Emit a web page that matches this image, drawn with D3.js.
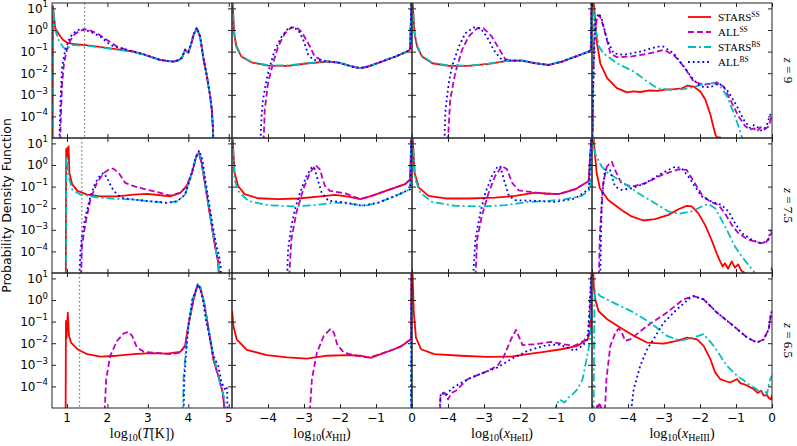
<!DOCTYPE html>
<html>
<head>
<meta charset="utf-8">
<script src="https://cdn.jsdelivr.net/npm/d3@7"></script>
<style>
  body { margin: 0; background: #fff; }
  svg { display: block; font-family: "DejaVu Sans", sans-serif; }
  .serif { font-family: "Liberation Serif", "DejaVu Serif", serif; }
</style>
</head>
<body>
<svg id="chart" width="797" height="446"></svg>
<script>
// Values are [x, log10(PDF)]. -6 means "below the plot".

// ---- z = 9 ----
const T_z9_starsSS = [[0.645,-6],[0.655,1.1],[0.71,0.08],[0.8,-0.2],[0.9,-0.45],[1.0,-0.58],[1.2,-0.66],[1.455,-0.7],[1.8,-0.78],[2.07,-0.85],[2.4,-0.93],[2.65,-1.0],[2.85,-1.1],[3.06,-1.23],[3.3,-1.38],[3.47,-1.43],[3.64,-1.46],[3.76,-1.4],[3.84,-1.3],[3.92,-0.92],[4.0,-1.05],[4.08,-0.6],[4.13,-0.23],[4.21,0.08],[4.29,-0.31],[4.38,-1.38],[4.46,-2.15],[4.54,-3.08],[4.58,-3.69],[4.61,-4.6],[4.63,-6]];
const T_z9_allSS = [[0.83,-6],[0.84,-4.5],[0.88,-2.46],[0.93,-1.5],[1.0,-0.92],[1.08,-0.5],[1.17,-0.23],[1.3,-0.05],[1.455,0.03],[1.6,-0.04],[1.74,-0.15],[1.99,-0.46],[2.24,-0.77],[2.48,-0.92],[2.65,-1.0],[2.85,-1.1],[3.06,-1.23],[3.3,-1.38],[3.47,-1.43],[3.64,-1.46],[3.76,-1.4],[3.84,-1.3],[3.92,-0.92],[4.0,-1.05],[4.08,-0.6],[4.13,-0.23],[4.21,0.08],[4.29,-0.31],[4.38,-1.38],[4.46,-2.15],[4.54,-3.08],[4.58,-3.69],[4.61,-4.6],[4.63,-6]];
const T_z9_starsBS = [[0.645,-6],[0.65,1.1],[0.66,0.9],[0.71,0.0],[0.8,-0.5],[0.9,-0.78],[0.98,-0.92],[1.05,-0.78],[1.13,-0.7],[1.455,-0.72],[1.8,-0.8],[2.07,-0.87],[2.4,-0.95],[2.65,-1.02],[2.85,-1.12],[3.06,-1.25],[3.3,-1.39],[3.47,-1.44],[3.64,-1.47],[3.76,-1.41],[3.84,-1.31],[3.92,-0.93],[4.0,-1.06],[4.08,-0.6],[4.13,-0.24],[4.21,0.07],[4.29,-0.32],[4.38,-1.4],[4.46,-2.18],[4.54,-3.1],[4.58,-3.72],[4.61,-4.6],[4.63,-6]];
const T_z9_allBS = [[0.8,-6],[0.84,-3.23],[0.88,-1.69],[0.96,-0.92],[1.08,-0.31],[1.25,0.0],[1.41,0.03],[1.58,-0.08],[1.83,-0.31],[2.07,-0.69],[2.32,-0.84],[2.65,-1.0],[2.85,-1.1],[3.06,-1.23],[3.3,-1.38],[3.47,-1.43],[3.64,-1.46],[3.76,-1.4],[3.84,-1.28],[3.92,-0.9],[4.0,-1.02],[4.08,-0.55],[4.13,-0.2],[4.21,0.1],[4.29,-0.28],[4.38,-1.35],[4.46,-2.12],[4.54,-3.05],[4.58,-3.65],[4.61,-4.5],[4.63,-6]];

const HII_z9_starsSS = [[-4.99,1.5],[-4.94,-0.15],[-4.88,-0.77],[-4.74,-1.23],[-4.46,-1.5],[-4.0,-1.65],[-3.44,-1.66],[-2.88,-1.54],[-2.32,-1.46],[-2.04,-1.51],[-1.67,-1.69],[-1.44,-1.77],[-1.21,-1.69],[-0.84,-1.46],[-0.46,-1.23],[-0.14,-1.0],[-0.05,-0.9],[-0.015,1.5]];
const HII_z9_allSS = [[-4.14,-6],[-4.09,-3.7],[-4.0,-2.46],[-3.86,-1.54],[-3.72,-0.77],[-3.53,-0.15],[-3.35,0.12],[-3.21,0.12],[-3.07,-0.08],[-2.88,-0.62],[-2.7,-1.23],[-2.51,-1.4],[-2.32,-1.46],[-2.04,-1.51],[-1.67,-1.69],[-1.44,-1.77],[-1.21,-1.69],[-0.84,-1.46],[-0.46,-1.23],[-0.14,-1.0],[-0.05,-0.9],[-0.015,1.5]];
const HII_z9_starsBS = [[-4.99,1.5],[-4.94,-0.1],[-4.88,-0.7],[-4.74,-1.2],[-4.46,-1.48],[-4.0,-1.63],[-3.44,-1.64],[-2.88,-1.53],[-2.32,-1.45],[-2.04,-1.5],[-1.67,-1.68],[-1.44,-1.76],[-1.21,-1.68],[-0.84,-1.45],[-0.46,-1.22],[-0.14,-0.99],[-0.05,-0.9],[-0.015,1.5]];
const HII_z9_allBS = [[-4.23,-6],[-4.18,-4.0],[-4.14,-3.23],[-4.04,-2.31],[-3.95,-1.69],[-3.81,-0.92],[-3.62,-0.31],[-3.44,0.08],[-3.3,0.12],[-3.16,0.0],[-3.02,-0.46],[-2.88,-1.15],[-2.74,-1.38],[-2.51,-1.42],[-2.32,-1.46],[-2.04,-1.51],[-1.67,-1.69],[-1.44,-1.77],[-1.21,-1.69],[-0.84,-1.46],[-0.46,-1.23],[-0.14,-1.0],[-0.05,-0.9],[-0.015,1.5]];

const HeII_z9_starsSS = [[-4.99,1.5],[-4.93,-0.15],[-4.86,-0.77],[-4.72,-1.23],[-4.44,-1.54],[-3.98,-1.66],[-3.43,-1.66],[-2.87,-1.57],[-2.31,-1.42],[-1.94,-1.42],[-1.57,-1.54],[-1.2,-1.62],[-0.83,-1.46],[-0.46,-1.23],[-0.09,-1.0],[-0.03,-0.9],[-0.01,1.5]];
const HeII_z9_allSS = [[-4.03,-6],[-3.94,-3.23],[-3.8,-2.0],[-3.61,-0.92],[-3.43,-0.31],[-3.19,0.08],[-3.01,0.08],[-2.78,-0.31],[-2.59,-0.85],[-2.41,-1.35],[-2.22,-1.42],[-1.94,-1.42],[-1.57,-1.54],[-1.2,-1.62],[-0.83,-1.46],[-0.46,-1.23],[-0.09,-1.0],[-0.03,-0.9],[-0.01,1.5]];
const HeII_z9_starsBS = [[-4.99,1.5],[-4.93,-0.1],[-4.86,-0.72],[-4.72,-1.2],[-4.44,-1.52],[-3.98,-1.64],[-3.43,-1.65],[-2.87,-1.56],[-2.31,-1.41],[-1.94,-1.41],[-1.57,-1.53],[-1.2,-1.61],[-0.83,-1.45],[-0.46,-1.22],[-0.09,-0.99],[-0.03,-0.9],[-0.01,1.5]];
const HeII_z9_allBS = [[-4.12,-6],[-4.07,-3.7],[-3.98,-2.46],[-3.89,-1.69],[-3.7,-0.77],[-3.52,-0.15],[-3.29,0.12],[-3.1,0.08],[-2.92,-0.31],[-2.73,-0.92],[-2.55,-1.31],[-2.41,-1.38],[-2.31,-1.42],[-1.94,-1.42],[-1.57,-1.54],[-1.2,-1.62],[-0.83,-1.46],[-0.46,-1.23],[-0.09,-1.0],[-0.03,-0.9],[-0.01,1.5]];

const HeIII_z9_starsSS = [[-4.97,1.5],[-4.94,1.0],[-4.91,0.46],[-4.86,-0.62],[-4.77,-1.54],[-4.58,-2.23],[-4.31,-2.69],[-4.03,-2.89],[-3.85,-2.84],[-3.66,-2.87],[-3.4,-2.8],[-3.19,-2.82],[-2.95,-2.76],[-2.73,-2.74],[-2.5,-2.7],[-2.36,-2.58],[-2.18,-2.62],[-1.99,-2.85],[-1.85,-3.23],[-1.71,-3.92],[-1.62,-4.54],[-1.57,-4.85],[-1.53,-4.97],[-1.44,-4.97],[-1.42,-6]];
const HeIII_z9_allSS = [[-4.98,-6],[-4.97,-3.0],[-4.94,-0.6],[-4.86,0.62],[-4.79,0.69],[-4.68,0.15],[-4.49,-1.08],[-4.31,-1.26],[-3.94,-1.23],[-3.47,-1.11],[-3.01,-0.92],[-2.73,-1.15],[-2.45,-1.69],[-2.18,-2.38],[-1.9,-2.54],[-1.53,-2.43],[-1.34,-2.62],[-1.16,-3.23],[-0.93,-4.0],[-0.74,-4.46],[-0.6,-4.62],[-0.5,-4.55],[-0.42,-4.7],[-0.32,-4.5],[-0.23,-4.62],[-0.09,-4.46],[0,-3.92]];
const HeIII_z9_starsBS = [[-4.97,-6],[-4.96,1.08],[-4.91,0.15],[-4.81,-0.77],[-4.68,-1.08],[-4.31,-1.54],[-3.84,-1.92],[-3.47,-2.38],[-3.19,-2.69],[-2.82,-2.77],[-2.45,-2.74],[-2.18,-2.65],[-1.9,-2.49],[-1.62,-2.46],[-1.44,-2.58],[-1.25,-3.08],[-1.06,-3.85],[-0.93,-4.46],[-0.83,-5.0],[-0.8,-6]];
const HeIII_z9_allBS = [[-5.0,-6],[-4.96,-1.8],[-4.91,0.46],[-4.81,0.77],[-4.72,0.46],[-4.58,-0.46],[-4.4,-1.08],[-4.12,-1.15],[-3.66,-1.0],[-3.19,-0.77],[-3.01,-0.77],[-2.73,-1.08],[-2.45,-1.69],[-2.18,-2.31],[-1.99,-2.62],[-1.71,-2.65],[-1.48,-2.46],[-1.25,-2.77],[-0.97,-3.54],[-0.79,-4.15],[-0.6,-4.54],[-0.5,-4.4],[-0.42,-4.46],[-0.32,-4.65],[-0.23,-4.62],[-0.14,-4.38],[-0.05,-3.92],[0,-3.8]];

// ---- z = 7.5 ----
const T_z75_starsSS = [[0.97,-6],[0.98,0.7],[1.0,0.78],[1.02,0.3],[1.04,0.86],[1.06,-0.37],[1.13,-0.9],[1.26,-1.2],[1.5,-1.37],[1.83,-1.45],[2.24,-1.45],[2.65,-1.37],[2.98,-1.34],[3.31,-1.4],[3.55,-1.45],[3.8,-1.29],[3.96,-0.98],[4.09,-0.37],[4.21,0.48],[4.26,0.55],[4.33,0.09],[4.41,-0.83],[4.5,-1.89],[4.58,-2.82],[4.66,-3.74],[4.74,-4.5],[4.78,-6]];
const T_z75_allSS = [[1.33,-6],[1.37,-3.74],[1.46,-2.66],[1.58,-1.6],[1.74,-0.83],[1.91,-0.37],[2.07,-0.17],[2.15,-0.17],[2.28,-0.37],[2.44,-0.83],[2.65,-0.98],[2.98,-1.14],[3.31,-1.29],[3.55,-1.42],[3.8,-1.29],[3.96,-0.98],[4.09,-0.37],[4.21,0.48],[4.26,0.55],[4.33,0.09],[4.41,-0.83],[4.5,-1.89],[4.58,-2.82],[4.66,-3.74],[4.74,-4.5],[4.78,-6]];
const T_z75_starsBS = [[0.98,-6],[0.99,0.4],[1.04,-0.52],[1.13,-1.14],[1.33,-1.37],[1.83,-1.52],[2.24,-1.57],[2.65,-1.6],[3.06,-1.68],[3.47,-1.75],[3.72,-1.68],[3.92,-1.37],[4.04,-0.68],[4.17,0.25],[4.25,0.63],[4.33,0.25],[4.41,-0.83],[4.5,-1.89],[4.58,-2.82],[4.66,-3.74],[4.74,-4.5],[4.78,-6]];
const T_z75_allBS = [[1.29,-6],[1.33,-4.05],[1.37,-3.28],[1.46,-2.37],[1.58,-1.45],[1.7,-0.83],[1.83,-0.45],[1.91,-0.37],[1.99,-0.6],[2.11,-1.06],[2.24,-1.37],[2.36,-1.52],[2.65,-1.6],[3.06,-1.68],[3.47,-1.75],[3.72,-1.68],[3.92,-1.37],[4.04,-0.68],[4.17,0.25],[4.27,0.68],[4.35,0.2],[4.43,-0.8],[4.52,-1.85],[4.6,-2.75],[4.68,-3.6],[4.76,-4.2],[4.8,-4.7],[4.82,-6]];

const HII_z75_starsSS = [[-4.99,1.5],[-4.93,-0.35],[-4.83,-0.97],[-4.65,-1.35],[-4.28,-1.54],[-3.72,-1.58],[-3.16,-1.55],[-2.6,-1.46],[-2.14,-1.38],[-1.77,-1.46],[-1.44,-1.58],[-1.12,-1.43],[-0.65,-1.15],[-0.19,-0.89],[-0.05,-0.66],[-0.015,1.5]];
const HII_z75_allSS = [[-3.44,-6],[-3.35,-3.43],[-3.21,-2.2],[-3.02,-1.12],[-2.83,-0.35],[-2.68,0.0],[-2.56,-0.2],[-2.42,-0.97],[-2.28,-1.2],[-1.86,-1.31],[-1.44,-1.58],[-1.12,-1.43],[-0.65,-1.15],[-0.19,-0.89],[-0.05,-0.66],[-0.015,1.5]];
const HII_z75_starsBS = [[-4.99,1.5],[-4.93,-0.66],[-4.83,-1.2],[-4.55,-1.66],[-4.0,-1.86],[-3.25,-1.92],[-2.7,-1.86],[-2.14,-1.74],[-1.58,-1.82],[-1.3,-1.89],[-0.93,-1.74],[-0.46,-1.43],[-0.05,-1.12],[-0.015,1.5]];
const HII_z75_allBS = [[-3.49,-6],[-3.44,-3.89],[-3.35,-2.82],[-3.25,-2.05],[-3.11,-1.28],[-2.93,-0.51],[-2.79,-0.12],[-2.72,-0.1],[-2.65,-0.51],[-2.51,-1.28],[-2.32,-1.66],[-1.95,-1.71],[-1.39,-1.89],[-0.93,-1.74],[-0.46,-1.43],[-0.05,-1.12],[-0.015,1.5]];

const HeII_z75_starsSS = [[-4.99,1.5],[-4.93,-0.35],[-4.81,-1.05],[-4.54,-1.43],[-4.07,-1.55],[-3.43,-1.55],[-2.69,-1.51],[-2.13,-1.43],[-1.57,-1.28],[-1.3,-1.32],[-0.93,-1.35],[-0.46,-1.12],[-0.09,-0.74],[-0.01,1.5]];
const HeII_z75_allSS = [[-3.26,-6],[-3.19,-3.43],[-3.06,-2.35],[-2.87,-1.28],[-2.69,-0.51],[-2.5,-0.05],[-2.36,-0.2],[-2.22,-0.82],[-2.04,-1.17],[-1.57,-1.28],[-1.3,-1.32],[-0.93,-1.35],[-0.46,-1.12],[-0.09,-0.74],[-0.01,1.5]];
const HeII_z75_starsBS = [[-4.99,1.5],[-4.91,-0.66],[-4.77,-1.28],[-4.44,-1.71],[-3.8,-1.89],[-3.06,-1.92],[-2.41,-1.86],[-1.76,-1.71],[-1.2,-1.66],[-0.74,-1.58],[-0.28,-1.43],[-0.05,-1.12],[-0.01,1.5]];
const HeII_z75_allBS = [[-3.33,-6],[-3.24,-3.43],[-3.1,-2.2],[-2.96,-1.28],[-2.78,-0.51],[-2.64,-0.12],[-2.55,-0.05],[-2.45,-0.66],[-2.31,-1.43],[-2.13,-1.63],[-1.57,-1.66],[-1.02,-1.71],[-0.46,-1.55],[-0.09,-1.12],[-0.01,1.5]];

const HeIII_z75_starsSS = [[-4.97,1.5],[-4.92,0.54],[-4.87,-0.38],[-4.78,-1.08],[-4.55,-1.62],[-4.18,-2.08],[-3.9,-2.38],[-3.57,-2.57],[-3.25,-2.51],[-2.88,-2.31],[-2.6,-2.05],[-2.37,-1.89],[-2.23,-1.92],[-2.05,-2.23],[-1.86,-2.77],[-1.68,-3.46],[-1.54,-4.08],[-1.44,-4.46],[-1.37,-4.7],[-1.31,-4.55],[-1.22,-4.8],[-1.12,-4.46],[-1.03,-4.75],[-0.94,-4.6],[-0.85,-4.9],[-0.75,-5.0],[-0.7,-6]];
const HeIII_z75_allSS = [[-4.82,-6],[-4.78,-3.15],[-4.69,-0.85],[-4.59,-0.08],[-4.45,0.15],[-4.36,-0.23],[-4.18,-0.85],[-3.9,-1.0],[-3.53,-0.85],[-3.06,-0.46],[-2.6,-0.2],[-2.37,-0.23],[-2.14,-0.85],[-1.95,-1.38],[-1.72,-1.69],[-1.49,-1.85],[-1.31,-2.23],[-1.12,-2.77],[-0.94,-3.15],[-0.66,-3.46],[-0.38,-3.58],[-0.19,-3.65],[-0.06,-3.31],[0,-3.1]];
const HeIII_z75_starsBS = [[-4.97,1.5],[-4.92,0.54],[-4.73,-0.08],[-4.55,-0.38],[-4.18,-0.77],[-3.71,-1.31],[-3.25,-1.77],[-2.88,-2.15],[-2.6,-2.26],[-2.23,-2.15],[-1.95,-1.92],[-1.77,-1.8],[-1.58,-2.0],[-1.4,-2.54],[-1.21,-3.15],[-1.03,-3.77],[-0.84,-4.23],[-0.66,-4.62],[-0.47,-5.0],[-0.45,-6],[-0.03,-6],[-0.015,-4.85],[0,-4.7]];
const HeIII_z75_allBS = [[-4.78,-6],[-4.73,-1.62],[-4.64,-0.23],[-4.5,-0.23],[-4.36,-1.0],[-4.18,-1.15],[-3.9,-1.08],[-3.53,-0.85],[-3.06,-0.38],[-2.69,-0.08],[-2.51,-0.15],[-2.32,-0.54],[-2.14,-1.0],[-1.95,-1.46],[-1.68,-1.69],[-1.4,-1.85],[-1.21,-2.15],[-1.03,-2.69],[-0.84,-3.15],[-0.56,-3.46],[-0.29,-3.65],[-0.1,-3.46],[-0.03,-3.0]];

// ---- z = 6.5 ----
const T_z65_starsSS = [[0.965,-6],[0.975,-0.97],[0.99,-1.75],[1.02,-0.58],[1.05,-1.66],[1.1,-1.97],[1.26,-2.28],[1.5,-2.51],[1.83,-2.62],[2.24,-2.58],[2.65,-2.51],[3.06,-2.46],[3.47,-2.48],[3.8,-2.4],[3.92,-2.12],[4.0,-1.2],[4.13,0.03],[4.23,0.72],[4.29,0.57],[4.39,-0.12],[4.5,-1.35],[4.62,-2.74],[4.74,-3.51],[4.85,-4.28],[4.95,-6]];
const T_z65_allSS = [[1.91,-6],[1.97,-3.66],[2.07,-2.58],[2.24,-1.89],[2.4,-1.55],[2.53,-1.48],[2.61,-1.66],[2.73,-2.2],[2.9,-2.4],[3.31,-2.46],[3.55,-2.51],[3.8,-2.43],[3.92,-2.12],[4.0,-1.2],[4.13,0.03],[4.23,0.72],[4.29,0.57],[4.39,-0.12],[4.5,-1.35],[4.62,-2.74],[4.74,-3.51],[4.85,-4.28],[4.95,-6]];
const T_z65_starsBS = [[3.86,-6],[3.88,-3.7],[3.93,-2.5],[4.0,-1.2],[4.1,0.0],[4.22,0.7],[4.3,0.6],[4.4,-0.2],[4.5,-1.3],[4.62,-2.6],[4.72,-3.3],[4.82,-4.1],[4.9,-4.6],[4.95,-6]];
const T_z65_allBS = [[3.88,-6],[3.9,-3.66],[3.94,-2.58],[4.01,-1.05],[4.1,0.03],[4.25,0.72],[4.33,0.35],[4.43,-0.89],[4.62,-2.58],[4.74,-3.05],[4.82,-3.8],[4.9,-4.12],[4.94,-4.0],[4.96,-4.2],[4.98,-6]];

const HII_z65_starsSS = [[-4.995,-0.51],[-4.96,-1.2],[-4.87,-1.82],[-4.59,-2.31],[-4.03,-2.55],[-3.47,-2.66],[-2.92,-2.71],[-2.36,-2.58],[-1.8,-2.55],[-1.43,-2.58],[-1.15,-2.68],[-0.87,-2.51],[-0.5,-2.28],[-0.31,-2.15],[-0.03,-1.82],[-0.012,1.5]];
const HII_z65_allSS = [[-2.87,-6],[-2.78,-3.66],[-2.64,-2.43],[-2.45,-1.66],[-2.27,-1.35],[-2.17,-1.51],[-2.08,-2.05],[-1.9,-2.43],[-1.62,-2.55],[-1.24,-2.66],[-0.96,-2.55],[-0.5,-2.28],[-0.31,-2.15],[-0.03,-1.82],[-0.012,1.5]];
const HII_z65_starsBS = [[-0.03,-6],[-0.012,1.5]];
const HII_z65_allBS = [[-0.03,-6],[-0.012,1.5]];

const HeII_z65_starsSS = [[-4.99,1.5],[-4.95,-0.58],[-4.89,-1.74],[-4.75,-2.28],[-4.38,-2.51],[-3.64,-2.58],[-2.9,-2.63],[-2.25,-2.62],[-1.79,-2.51],[-1.33,-2.4],[-0.86,-2.28],[-0.4,-2.12],[-0.12,-1.82],[-0.03,-1.35],[-0.01,1.5]];
const HeII_z65_allSS = [[-4.24,-6],[-4.21,-4.5],[-4.1,-4.28],[-4.0,-4.6],[-3.9,-4.3],[-3.78,-4.2],[-3.45,-3.66],[-2.99,-3.35],[-2.62,-3.05],[-2.44,-2.58],[-2.25,-1.82],[-2.11,-1.38],[-2.02,-1.74],[-1.93,-2.09],[-1.6,-2.05],[-1.14,-1.94],[-0.77,-2.05],[-0.49,-2.12],[-0.22,-1.89],[-0.08,-1.51],[-0.01,1.5]];
const HeII_z65_starsBS = [[-1.05,-6],[-1.0,-4.9],[-0.9,-4.6],[-0.77,-4.75],[-0.65,-4.5],[-0.58,-4.43],[-0.4,-4.12],[-0.26,-3.66],[-0.17,-2.89],[-0.08,-2.12],[-0.03,-1.51],[-0.01,1.5]];
const HeII_z65_allBS = [[-4.27,-6],[-4.2,-4.28],[-4.05,-4.4],[-3.9,-4.1],[-3.45,-3.66],[-2.99,-3.35],[-2.62,-3.12],[-2.25,-2.74],[-1.79,-2.35],[-1.33,-2.12],[-0.96,-2.05],[-0.68,-2.2],[-0.49,-2.35],[-0.26,-2.12],[-0.12,-1.82],[-0.01,1.5]];

const HeIII_z65_starsSS = [[-4.97,1.5],[-4.95,0.6],[-4.91,0.03],[-4.82,-0.51],[-4.58,-0.89],[-4.21,-1.28],[-3.84,-1.66],[-3.47,-1.97],[-3.01,-2.02],[-2.64,-1.89],[-2.36,-1.74],[-2.08,-1.82],[-1.9,-2.12],[-1.71,-2.74],[-1.58,-3.35],[-1.44,-3.66],[-1.3,-3.75],[-1.16,-3.82],[-0.97,-3.66],[-0.88,-3.85],[-0.79,-3.89],[-0.65,-4.0],[-0.51,-4.12],[-0.4,-4.3],[-0.3,-4.2],[-0.23,-4.43],[-0.14,-4.4],[-0.08,-4.55],[-0.03,-4.6],[0,-4.4]];
const HeIII_z65_allSS = [[-4.88,-6],[-4.86,-4.8],[-4.82,-4.95],[-4.78,-4.75],[-4.74,-5.1],[-4.64,-5.1],[-4.6,-3.66],[-4.49,-2.12],[-4.35,-1.51],[-4.26,-1.32],[-4.17,-1.51],[-4.08,-1.89],[-3.94,-1.82],[-3.47,-1.2],[-2.92,-0.58],[-2.46,0.03],[-2.18,0.18],[-1.9,0.03],[-1.53,-0.58],[-1.07,-1.2],[-0.69,-1.74],[-0.42,-1.97],[-0.23,-1.82],[-0.09,-1.35],[-0.03,-0.66],[0,-0.5]];
const HeIII_z65_starsBS = [[-4.96,-6],[-4.93,0.45],[-4.86,0.34],[-4.77,0.18],[-4.31,-0.2],[-3.84,-0.58],[-3.38,-1.05],[-2.92,-1.66],[-2.55,-1.89],[-2.18,-1.74],[-1.9,-1.58],[-1.62,-2.12],[-1.25,-3.05],[-0.97,-3.51],[-0.8,-3.7],[-0.6,-3.97],[-0.45,-4.1],[-0.32,-4.28],[-0.2,-4.2],[-0.14,-4.35],[-0.05,-3.66],[0,-3.5]];
const HeIII_z65_allBS = [[-3.98,-6],[-3.84,-4.12],[-3.66,-3.05],[-3.47,-2.28],[-3.29,-1.82],[-3.01,-1.05],[-2.64,-0.43],[-2.27,0.1],[-2.18,0.18],[-1.9,0.03],[-1.53,-0.58],[-1.07,-1.2],[-0.69,-1.74],[-0.42,-1.97],[-0.23,-1.82],[-0.09,-1.35],[-0.03,-0.66],[0,-0.5]];

// redshift rows, CMB temperature marker (log10 T), ticks and legend text
const redshifts = ['9', '7.5', '6.5'];
const tcmbLog = [1.435, 1.366, 1.31];
const tempTicks = [1, 2, 3, 4, 5];
const fracTicks = [-4, -3, -2, -1, 0];
const yTickExps = [1, 0, -1, -2, -3, -4];
const legendNames = ['STARS', 'ALL', 'STARS', 'ALL'];
const legendSups = ['SS', 'SS', 'BS', 'BS'];

const panelData = [
  [[T_z9_starsSS, T_z9_allSS, T_z9_starsBS, T_z9_allBS],
   [HII_z9_starsSS, HII_z9_allSS, HII_z9_starsBS, HII_z9_allBS],
   [HeII_z9_starsSS, HeII_z9_allSS, HeII_z9_starsBS, HeII_z9_allBS],
   [HeIII_z9_starsSS, HeIII_z9_allSS, HeIII_z9_starsBS, HeIII_z9_allBS]],
  [[T_z75_starsSS, T_z75_allSS, T_z75_starsBS, T_z75_allBS],
   [HII_z75_starsSS, HII_z75_allSS, HII_z75_starsBS, HII_z75_allBS],
   [HeII_z75_starsSS, HeII_z75_allSS, HeII_z75_starsBS, HeII_z75_allBS],
   [HeIII_z75_starsSS, HeIII_z75_allSS, HeIII_z75_starsBS, HeIII_z75_allBS]],
  [[T_z65_starsSS, T_z65_allSS, T_z65_starsBS, T_z65_allBS],
   [HII_z65_starsSS, HII_z65_allSS, HII_z65_starsBS, HII_z65_allBS],
   [HeII_z65_starsSS, HeII_z65_allSS, HeII_z65_starsBS, HeII_z65_allBS],
   [HeIII_z65_starsSS, HeIII_z65_allSS, HeIII_z65_starsBS, HeIII_z65_allBS]]
];

// styles
const lineStyles = [
  { color: '#ff0000', dash: null },
  { color: '#bf00bf', dash: '6,3' },
  { color: '#00bfbf', dash: '8,3,2,3' },
  { color: '#0000ff', dash: '1.8,3' }
];
const cols = [
  { domain: [0.63, 5.08], ticks: tempTicks, label: 'T' },
  { domain: [-5, 0], ticks: fracTicks, label: 'HII' },
  { domain: [-5, 0], ticks: fracTicks, label: 'HeII' },
  { domain: [-5, 0], ticks: fracTicks, label: 'HeIII' }
];

const W = 180, H = 135, X0 = 52, Y0 = 3;
const svg = d3.select('#chart');
const fmtMinus = v => String(v).replace('-', '\u2212');

redshifts.forEach((z, r) => {
  cols.forEach((col, c) => {
    const gx = X0 + W * c, gy = Y0 + H * r;
    const x = d3.scaleLinear().domain(col.domain).range([0, W]);
    const y = d3.scaleLog().domain([1e-5, Math.pow(10, 1.25)]).range([H, 0]);
    const g = svg.append('g').attr('transform', `translate(${gx},${gy})`);

    const clipId = `clip-${r}-${c}`;
    g.append('clipPath').attr('id', clipId)
      .append('rect').attr('width', W).attr('height', H);
    const plot = g.append('g').attr('clip-path', `url(#${clipId})`);

    // CMB temperature marker
    if (c === 0) {
      plot.append('line')
        .attr('x1', x(tcmbLog[r])).attr('x2', x(tcmbLog[r]))
        .attr('y1', 0).attr('y2', H)
        .attr('stroke', '#808080').attr('stroke-width', 1.3)
        .attr('stroke-dasharray', '1.5,2.5');
    }

    const line = d3.line()
      .x(d => x(d[0]))
      .y(d => y(Math.pow(10, d[1])));

    panelData[r][c].forEach((pts, s) => {
      const st = lineStyles[s];
      plot.append('path')
        .datum(pts)
        .attr('d', line)
        .attr('fill', 'none')
        .attr('stroke', st.color)
        .attr('stroke-width', 1.8)
        .attr('stroke-linejoin', 'round')
        .attr('stroke-dasharray', st.dash);
    });

    // inward ticks on all four sides
    const yTicks = yTickExps.map(e => Math.pow(10, e));
    const axes = [
      [d3.axisLeft(y).tickValues(yTicks), 0, 0],
      [d3.axisRight(y).tickValues(yTicks), W, 0],
      [d3.axisBottom(x).tickValues(col.ticks), 0, H],
      [d3.axisTop(x).tickValues(col.ticks), 0, 0]
    ];
    axes.forEach(([ax, tx, ty]) => {
      const a = g.append('g')
        .attr('transform', `translate(${tx},${ty})`)
        .attr('color', '#222')
        .call(ax.tickSize(-4).tickFormat(''));
      a.select('.domain').remove();
    });

    g.append('rect')
      .attr('width', W).attr('height', H)
      .attr('fill', 'none').attr('stroke', '#222').attr('stroke-width', 1);

    // y tick labels on the first column
    if (c === 0) {
      yTickExps.forEach(e => {
        const t = g.append('text')
          .attr('x', -4).attr('y', y(Math.pow(10, e)) + 4.3)
          .attr('text-anchor', 'end')
          .attr('font-size', 12).attr('fill', '#000');
        t.append('tspan').text('10');
        t.append('tspan').attr('dy', -5.5).attr('font-size', 8.5).text(fmtMinus(e));
      });
    }

    // x tick labels and axis titles on the bottom row
    if (r === redshifts.length - 1) {
      col.ticks.forEach(v => {
        g.append('text')
          .attr('x', x(v)).attr('y', H + 13.5)
          .attr('text-anchor', 'middle')
          .attr('font-size', 12).attr('fill', '#000')
          .text(fmtMinus(v));
      });
      const t = g.append('text').attr('class', 'serif')
        .attr('x', W / 2).attr('y', H + 30)
        .attr('text-anchor', 'middle')
        .attr('font-size', 14).attr('fill', '#000');
      t.append('tspan').text('log');
      t.append('tspan').attr('dy', 3).attr('font-size', 10).text('10');
      t.append('tspan').attr('dy', -3).text('(');
      if (c === 0) {
        t.append('tspan').attr('font-style', 'italic').text('T');
        t.append('tspan').text('[K])');
      } else {
        t.append('tspan').attr('font-style', 'italic').text('x');
        t.append('tspan').attr('dy', 3).attr('font-size', 10).text(col.label);
        t.append('tspan').attr('dy', -3).text(')');
      }
    }

    // redshift label on the right
    if (c === cols.length - 1) {
      const t = svg.append('text').attr('class', 'serif')
        .attr('transform', `translate(${gx + W + 12},${gy + H / 2}) rotate(90)`)
        .attr('text-anchor', 'middle')
        .attr('font-size', 13).attr('fill', '#000');
      t.append('tspan').attr('font-style', 'italic').text('z');
      t.append('tspan').text(' = ' + z);
    }
  });
});

// y axis title
svg.append('text')
  .attr('transform', `translate(11,${Y0 + H * 1.5}) rotate(-90)`)
  .attr('text-anchor', 'middle')
  .attr('font-size', 12.5).attr('fill', '#000')
  .text('Probability Density Function');

// legend in top-right panel
const legend = svg.append('g').attr('transform', 'translate(688,17)');
legendNames.forEach((name, i) => {
  const st = lineStyles[i];
  legend.append('line')
    .attr('x1', 0).attr('x2', 23).attr('y1', i * 15).attr('y2', i * 15)
    .attr('stroke', st.color).attr('stroke-width', 1.8)
    .attr('stroke-dasharray', st.dash);
  const t = legend.append('text').attr('class', 'serif')
    .attr('x', 30).attr('y', i * 15 + 4)
    .attr('font-size', 11).attr('fill', '#000');
  t.append('tspan').text(name);
  t.append('tspan').attr('dy', -4.5).attr('font-size', 7.5).text(legendSups[i]);
});
</script>
</body>
</html>
